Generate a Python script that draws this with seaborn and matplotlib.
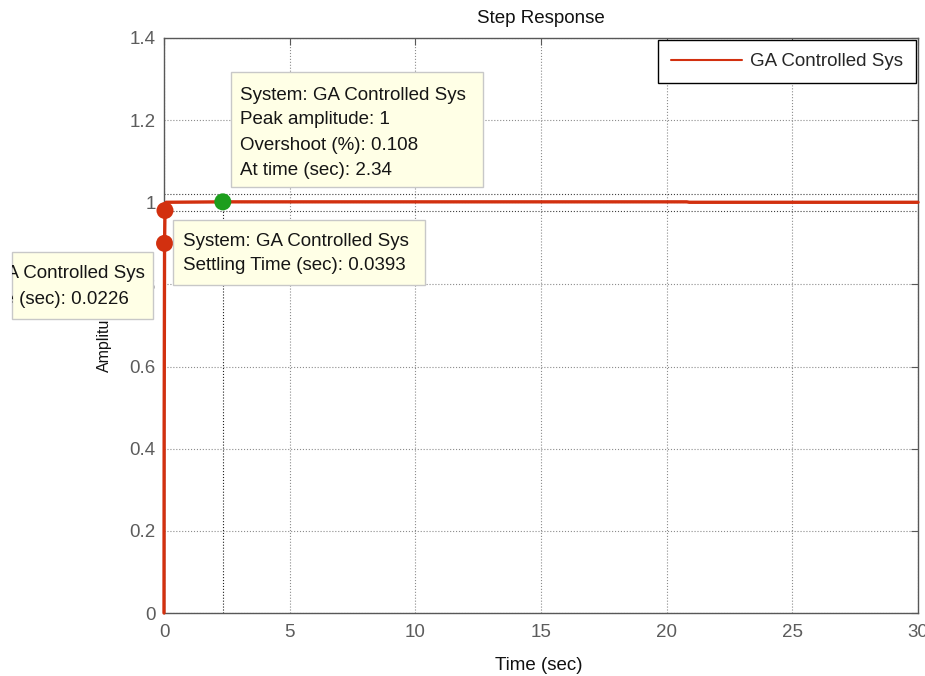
import matplotlib
matplotlib.use("Agg")
import matplotlib.pyplot as plt
from matplotlib import font_manager
from matplotlib.patches import Rectangle
from matplotlib.transforms import Bbox, TransformedBbox
import seaborn as sns

# Step response samples (time in seconds, amplitude)
time_s = [0.0, 0.006, 0.0226, 0.0393, 0.08, 2.34, 20.8, 20.9, 30.0]
amplitude = [0.0, 0.45, 0.90, 0.98, 1.0, 1.00108, 1.00108, 1.0, 1.0]

# Characteristic points marked on the curve
rise_time, rise_amp = 0.0226, 0.90
settle_time, settle_amp = 0.0393, 0.98
peak_time, peak_amp = 2.34, 1.00108
settle_band = [0.98, 1.02]

x_ticks = [0, 5, 10, 15, 20, 25, 30]
x_tick_labels = ["0", "5", "10", "15", "20", "25", "30"]
y_ticks = [0, 0.2, 0.4, 0.6, 0.8, 1.0, 1.2, 1.4]
y_tick_labels = ["0", "0.2", "0.4", "0.6", "0.8", "1", "1.2", "1.4"]

series_name = "GA Controlled Sys"
peak_tip = ["System: GA Controlled Sys", "Peak amplitude: 1",
            "Overshoot (%): 0.108", "At time (sec): 2.34"]
settle_tip = ["System: GA Controlled Sys", "Settling Time (sec): 0.0393"]
rise_tip = ["System: GA Controlled Sys", "Rise Time (sec): 0.0226"]

W, H = 925, 676
RED = "#d2300f"
GREEN = "#1c9e1c"
TIP_FACE = "#ffffe6"
TIP_EDGE = "#c8c8c8"
GRAY = "#585858"
FS = 13.5

sns.set_theme(style="white")
plt.rcParams["font.family"] = ["Liberation Sans", "DejaVu Sans"]
installed = {f.name for f in font_manager.fontManager.ttflist}
narrow = "Liberation Sans Narrow" if "Liberation Sans Narrow" in installed else "Liberation Sans"


def fx(px):
    return px / W


def fy(py):
    return 1 - py / H


fig = plt.figure(figsize=(W / 100, H / 100), dpi=100)
ax = fig.add_axes([fx(164), fy(613), (918 - 164) / W, (613 - 38) / H])

ax.set_axisbelow(True)
ax.grid(True, linestyle=":", color="#8c8c8c", linewidth=0.8)

for v in settle_band:
    ax.axhline(v, linestyle=":", color="#404040", linewidth=0.8, zorder=1.5)
ax.plot([peak_time, peak_time], [0, peak_amp], linestyle=":", color="#202020",
        linewidth=0.8, zorder=1.5)

sns.lineplot(x=time_s, y=amplitude, ax=ax, color=RED, linewidth=2.4,
             label=series_name, estimator=None, sort=False, clip_on=False, zorder=3)

sns.scatterplot(x=[rise_time, settle_time], y=[rise_amp, settle_amp], ax=ax,
                color=RED, s=150, edgecolor="none", legend=False, zorder=5, clip_on=False)
sns.scatterplot(x=[peak_time], y=[peak_amp], ax=ax, color=GREEN, s=150,
                edgecolor="none", legend=False, zorder=5, clip_on=False)

ax.set_xlim(0, 30)
ax.set_ylim(0, 1.4)
ax.set_xticks(x_ticks, x_tick_labels)
ax.set_yticks(y_ticks, y_tick_labels)
ax.tick_params(direction="in", length=5, width=0.8, top=True, right=True,
               color=GRAY, labelcolor="#5c5c5c", labelsize=FS)
ax.tick_params(axis="x", pad=8)
ax.tick_params(axis="y", pad=6)
for sp in ax.spines.values():
    sp.set_visible(True)
    sp.set_color(GRAY)
    sp.set_linewidth(1.0)

ax.set_title("Step Response", fontsize=13.5, color="#111111", pad=11)
ax.set_xlabel("Time (sec)", fontsize=FS, color="#111111")
ax.xaxis.set_label_coords(0.497, -0.0765)
ax.set_ylabel("Amplitude", fontsize=11.5, color="#111111", family=[narrow, "DejaVu Sans"])
ax.yaxis.set_label_coords(-0.069, 0.481)

leg = ax.legend(loc="upper right", bbox_to_anchor=(fx(916), fy(40)),
                bbox_transform=fig.transFigure, borderaxespad=0, frameon=True,
                fancybox=False, edgecolor="black", framealpha=1, fontsize=FS,
                handlelength=3.8, handletextpad=0.4, borderpad=0.7)
leg.get_frame().set_linewidth(1.0)
for ln in leg.get_lines():
    ln.set_linewidth(1.5)


def datatip(x0, y0, x1, y1, text_x, line_ys, lines, clip=False, right_edges=None):
    rect = Rectangle((fx(x0), fy(y1)), (x1 - x0) / W, (y1 - y0) / H,
                     transform=fig.transFigure, facecolor=TIP_FACE,
                     edgecolor=TIP_EDGE, linewidth=1.0, zorder=4)
    fig.add_artist(rect)
    texts = []
    for i, (s, ly) in enumerate(zip(lines, line_ys)):
        if right_edges is None:
            t = fig.text(fx(text_x), fy(ly), s, ha="left", va="center",
                         fontsize=FS, color="#151515", zorder=5)
        else:
            t = fig.text(fx(right_edges[i]), fy(ly), s, ha="right", va="center",
                         fontsize=FS, color="#151515", zorder=5)
        texts.append(t)
    if clip:
        box = TransformedBbox(Bbox([[fx(x0), fy(y1)], [fx(x1), fy(y0)]]), fig.transFigure)
        for t in texts:
            t.set_clip_box(box)
            t.set_clip_on(True)


datatip(231, 72, 483, 187, 240, [95, 120, 145, 170], peak_tip)
datatip(173, 220, 425, 285, 183, [241, 266], settle_tip)
datatip(12, 252, 153, 319, 0, [274, 299], rise_tip, clip=True, right_edges=[145, 129])

fig.savefig("out.png", dpi=100)
